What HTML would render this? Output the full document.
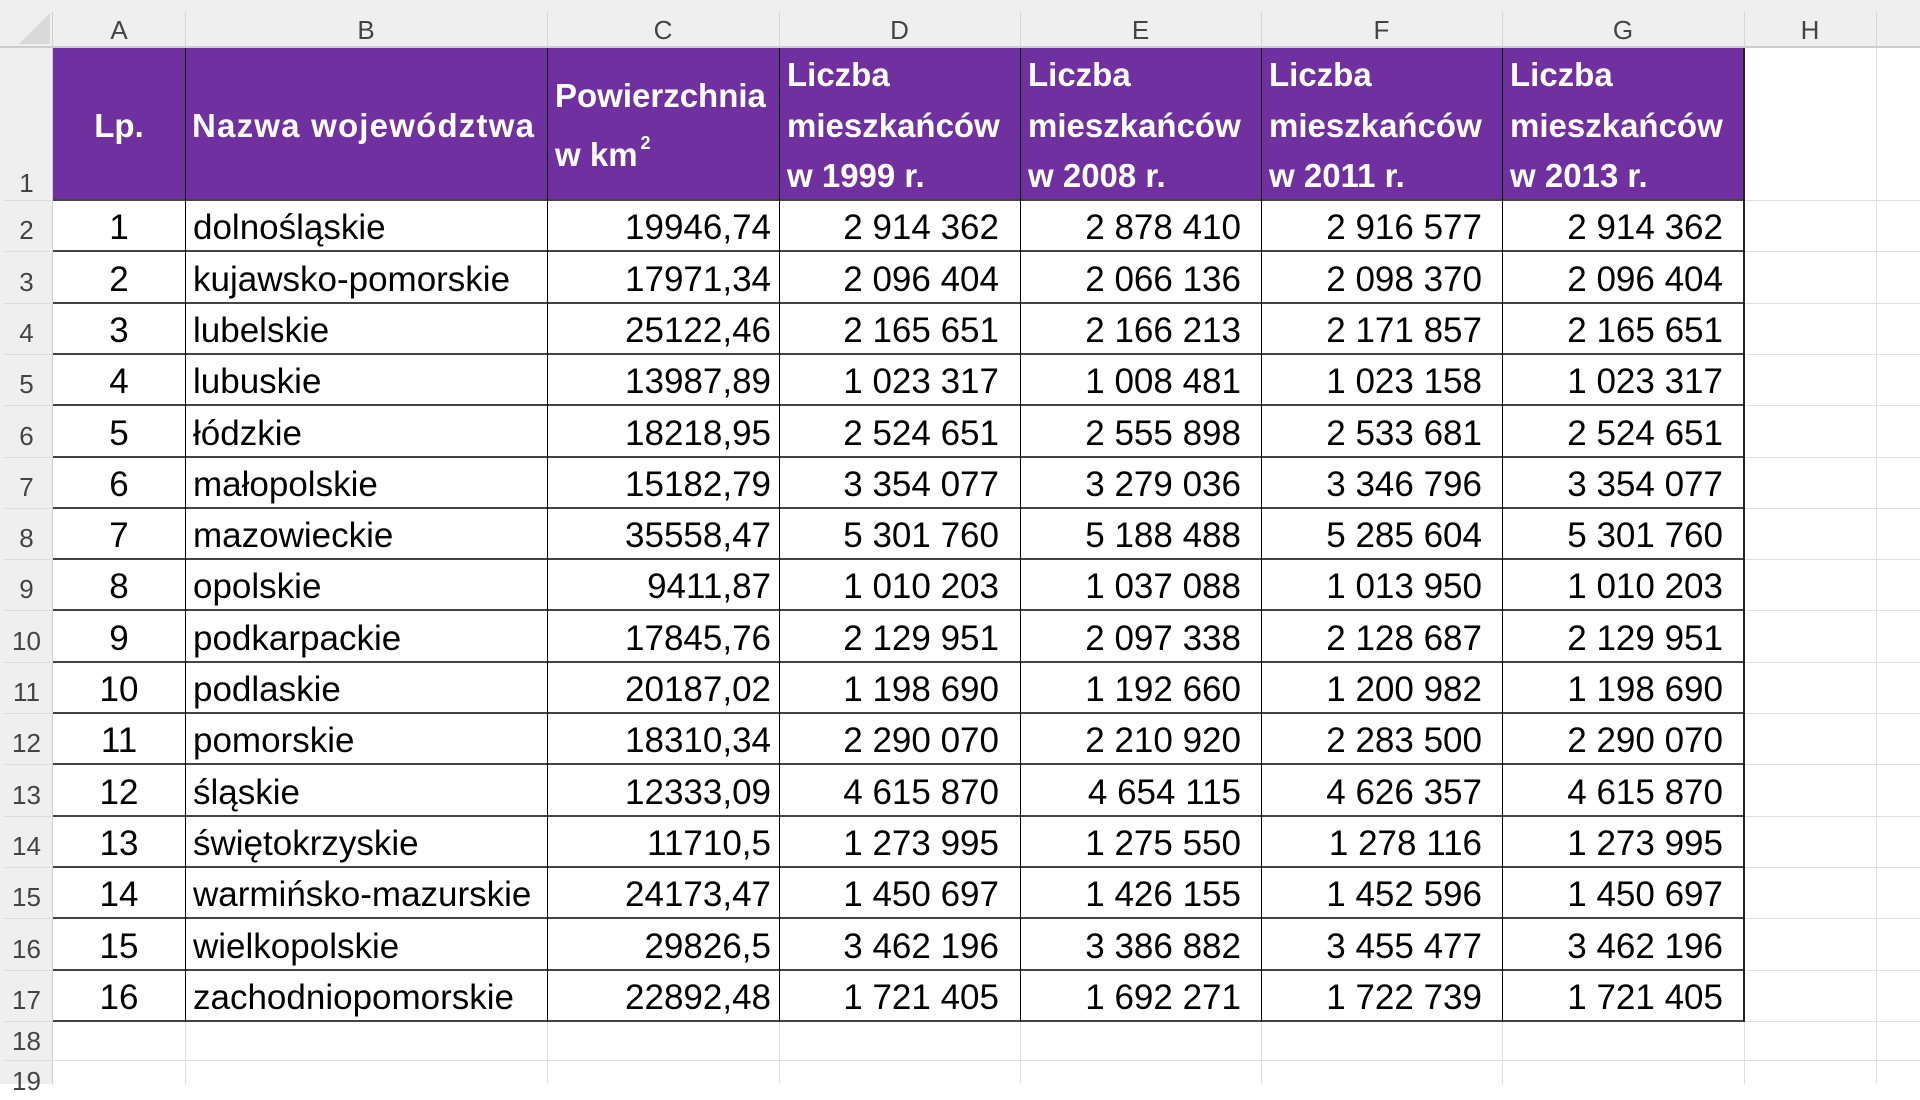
<!DOCTYPE html>
<html>
<head>
<meta charset="utf-8">
<style>
html,body{margin:0;padding:0}
body{width:1920px;height:1084px;overflow:hidden;background:#fff;font-family:"Liberation Sans",sans-serif;position:relative}
div{box-sizing:border-box}
.abs{position:absolute}
.row{position:absolute;left:0;width:1920px}
.t{position:absolute;bottom:3.5px;line-height:40px;font-size:35px;white-space:pre;color:#000}
.n{position:absolute;left:0;width:53px;bottom:6px;line-height:30px;font-size:26px;text-align:center;color:#444}
.a{left:53px;width:132px;text-align:center}
.b{left:193px}
.c{left:547px;width:224px;text-align:right}
.d{left:779px;width:220px;text-align:right}
.e{left:1020px;width:221px;text-align:right}
.f{left:1261px;width:221px;text-align:right}
.g{left:1502px;width:221px;text-align:right}
.hl{position:absolute;left:53px;width:1691px;height:2px;background:#444}
.vl{position:absolute;top:48px;height:974px;width:1px;background:#000}
.gh{position:absolute;height:1px;background:#e0e0e0}
.gv{position:absolute;width:1px;background:#e0e0e0}
.rs{position:absolute;left:4px;width:49px;height:1px;background:#dcdcdc}
.cs{position:absolute;top:12px;height:34px;width:1px;background:#d6d6d6}
.cl{position:absolute;top:14.5px;line-height:30px;font-size:26px;color:#444;text-align:center}
.ht{position:absolute;color:#fff;font-weight:bold;font-size:33px;line-height:50.5px;white-space:nowrap}
</style>
</head>
<body>
<div class="abs" style="left:0;top:0;width:1920px;height:46px;background:#efefef"></div>
<div class="abs" style="left:0;top:46px;width:1920px;height:2px;background:#cdcdcd"></div>
<div class="abs" style="left:0;top:48px;width:52px;height:1036px;background:#efefef"></div>
<div class="abs" style="left:52px;top:12px;width:1px;height:1072px;background:#d0d0d0"></div>
<svg class="abs" style="left:0;top:0" width="53" height="48"><polygon points="50,13 50,44 19,44" fill="#d9d9d9"/></svg>

<div class="cs" style="left:185px"></div>
<div class="cs" style="left:547px"></div>
<div class="cs" style="left:779px"></div>
<div class="cs" style="left:1020px"></div>
<div class="cs" style="left:1261px"></div>
<div class="cs" style="left:1502px"></div>
<div class="cs" style="left:1744px"></div>
<div class="cs" style="left:1876px"></div>

<div class="cl" style="left:53px;width:132px">A</div>
<div class="cl" style="left:185px;width:362px">B</div>
<div class="cl" style="left:547px;width:232px">C</div>
<div class="cl" style="left:779px;width:241px">D</div>
<div class="cl" style="left:1020px;width:241px">E</div>
<div class="cl" style="left:1261px;width:241px">F</div>
<div class="cl" style="left:1502px;width:242px">G</div>
<div class="cl" style="left:1744px;width:132px">H</div>

<div class="rs" style="top:200px"></div>
<div class="rs" style="top:251px"></div>
<div class="rs" style="top:303px"></div>
<div class="rs" style="top:354px"></div>
<div class="rs" style="top:405px"></div>
<div class="rs" style="top:457px"></div>
<div class="rs" style="top:508px"></div>
<div class="rs" style="top:559px"></div>
<div class="rs" style="top:610px"></div>
<div class="rs" style="top:662px"></div>
<div class="rs" style="top:713px"></div>
<div class="rs" style="top:764px"></div>
<div class="rs" style="top:816px"></div>
<div class="rs" style="top:867px"></div>
<div class="rs" style="top:918px"></div>
<div class="rs" style="top:970px"></div>
<div class="rs" style="top:1021px"></div>
<div class="rs" style="top:1060px"></div>

<div class="gv" style="left:1876px;top:48px;height:1036px"></div>
<div class="gh" style="left:1744px;width:176px;top:200px"></div>
<div class="gh" style="left:1744px;width:176px;top:251px"></div>
<div class="gh" style="left:1744px;width:176px;top:303px"></div>
<div class="gh" style="left:1744px;width:176px;top:354px"></div>
<div class="gh" style="left:1744px;width:176px;top:405px"></div>
<div class="gh" style="left:1744px;width:176px;top:457px"></div>
<div class="gh" style="left:1744px;width:176px;top:508px"></div>
<div class="gh" style="left:1744px;width:176px;top:559px"></div>
<div class="gh" style="left:1744px;width:176px;top:610px"></div>
<div class="gh" style="left:1744px;width:176px;top:662px"></div>
<div class="gh" style="left:1744px;width:176px;top:713px"></div>
<div class="gh" style="left:1744px;width:176px;top:764px"></div>
<div class="gh" style="left:1744px;width:176px;top:816px"></div>
<div class="gh" style="left:1744px;width:176px;top:867px"></div>
<div class="gh" style="left:1744px;width:176px;top:918px"></div>
<div class="gh" style="left:1744px;width:176px;top:970px"></div>
<div class="gh" style="left:1744px;width:176px;top:1021px"></div>
<div class="gh" style="left:53px;width:1867px;top:1060px"></div>
<div class="gv" style="left:185px;top:1021px;height:63px"></div>
<div class="gv" style="left:547px;top:1021px;height:63px"></div>
<div class="gv" style="left:779px;top:1021px;height:63px"></div>
<div class="gv" style="left:1020px;top:1021px;height:63px"></div>
<div class="gv" style="left:1261px;top:1021px;height:63px"></div>
<div class="gv" style="left:1502px;top:1021px;height:63px"></div>
<div class="gv" style="left:1744px;top:1021px;height:63px"></div>

<div class="abs" style="left:53px;top:48px;width:1691px;height:152px;background:#7030a0"></div>

<div class="hl" style="top:199px"></div>
<div class="hl" style="top:250px"></div>
<div class="hl" style="top:302px"></div>
<div class="hl" style="top:353px"></div>
<div class="hl" style="top:404px"></div>
<div class="hl" style="top:456px"></div>
<div class="hl" style="top:507px"></div>
<div class="hl" style="top:558px"></div>
<div class="hl" style="top:609px"></div>
<div class="hl" style="top:661px"></div>
<div class="hl" style="top:712px"></div>
<div class="hl" style="top:763px"></div>
<div class="hl" style="top:815px"></div>
<div class="hl" style="top:866px"></div>
<div class="hl" style="top:917px"></div>
<div class="hl" style="top:969px"></div>
<div class="hl" style="top:1020px"></div>
<div class="vl" style="left:185px"></div>
<div class="vl" style="left:547px"></div>
<div class="vl" style="left:779px"></div>
<div class="vl" style="left:1020px"></div>
<div class="vl" style="left:1261px"></div>
<div class="vl" style="left:1502px"></div>
<div class="vl" style="left:1743px;width:2px;background:#222"></div>

<div class="ht" style="left:53px;width:132px;text-align:center;top:101.3px">Lp.</div>
<div class="ht" style="left:192px;top:101.3px;letter-spacing:1.2px">Nazwa województwa</div>
<div class="ht" style="left:555px;top:71.3px">Powierzchnia</div>
<div class="ht" style="left:555px;top:130.3px">w km<span style="font-size:18px;position:relative;top:-17px;margin-left:3px">2</span></div>
<div class="ht" style="left:787px;top:50.3px">Liczba<br>mieszkańców<br>w 1999 r.</div>
<div class="ht" style="left:1028px;top:50.3px">Liczba<br>mieszkańców<br>w 2008 r.</div>
<div class="ht" style="left:1269px;top:50.3px">Liczba<br>mieszkańców<br>w 2011 r.</div>
<div class="ht" style="left:1510px;top:50.3px">Liczba<br>mieszkańców<br>w 2013 r.</div>

<div class="row" style="top:48px;height:152px"><div class="n" style="bottom:2px">1</div></div>

<div class="row" style="top:200px;height:51px"><div class="n">2</div><div class="t a">1</div><div class="t b">dolnośląskie</div><div class="t c">19946,74</div><div class="t d">2 914 362</div><div class="t e">2 878 410</div><div class="t f">2 916 577</div><div class="t g">2 914 362</div></div>
<div class="row" style="top:251px;height:52px"><div class="n">3</div><div class="t a">2</div><div class="t b">kujawsko-pomorskie</div><div class="t c">17971,34</div><div class="t d">2 096 404</div><div class="t e">2 066 136</div><div class="t f">2 098 370</div><div class="t g">2 096 404</div></div>
<div class="row" style="top:303px;height:51px"><div class="n">4</div><div class="t a">3</div><div class="t b">lubelskie</div><div class="t c">25122,46</div><div class="t d">2 165 651</div><div class="t e">2 166 213</div><div class="t f">2 171 857</div><div class="t g">2 165 651</div></div>
<div class="row" style="top:354px;height:51px"><div class="n">5</div><div class="t a">4</div><div class="t b">lubuskie</div><div class="t c">13987,89</div><div class="t d">1 023 317</div><div class="t e">1 008 481</div><div class="t f">1 023 158</div><div class="t g">1 023 317</div></div>
<div class="row" style="top:405px;height:52px"><div class="n">6</div><div class="t a">5</div><div class="t b">łódzkie</div><div class="t c">18218,95</div><div class="t d">2 524 651</div><div class="t e">2 555 898</div><div class="t f">2 533 681</div><div class="t g">2 524 651</div></div>
<div class="row" style="top:457px;height:51px"><div class="n">7</div><div class="t a">6</div><div class="t b">małopolskie</div><div class="t c">15182,79</div><div class="t d">3 354 077</div><div class="t e">3 279 036</div><div class="t f">3 346 796</div><div class="t g">3 354 077</div></div>
<div class="row" style="top:508px;height:51px"><div class="n">8</div><div class="t a">7</div><div class="t b">mazowieckie</div><div class="t c">35558,47</div><div class="t d">5 301 760</div><div class="t e">5 188 488</div><div class="t f">5 285 604</div><div class="t g">5 301 760</div></div>
<div class="row" style="top:559px;height:51px"><div class="n">9</div><div class="t a">8</div><div class="t b">opolskie</div><div class="t c">9411,87</div><div class="t d">1 010 203</div><div class="t e">1 037 088</div><div class="t f">1 013 950</div><div class="t g">1 010 203</div></div>
<div class="row" style="top:610px;height:52px"><div class="n">10</div><div class="t a">9</div><div class="t b">podkarpackie</div><div class="t c">17845,76</div><div class="t d">2 129 951</div><div class="t e">2 097 338</div><div class="t f">2 128 687</div><div class="t g">2 129 951</div></div>
<div class="row" style="top:662px;height:51px"><div class="n">11</div><div class="t a">10</div><div class="t b">podlaskie</div><div class="t c">20187,02</div><div class="t d">1 198 690</div><div class="t e">1 192 660</div><div class="t f">1 200 982</div><div class="t g">1 198 690</div></div>
<div class="row" style="top:713px;height:51px"><div class="n">12</div><div class="t a">11</div><div class="t b">pomorskie</div><div class="t c">18310,34</div><div class="t d">2 290 070</div><div class="t e">2 210 920</div><div class="t f">2 283 500</div><div class="t g">2 290 070</div></div>
<div class="row" style="top:764px;height:52px"><div class="n">13</div><div class="t a">12</div><div class="t b">śląskie</div><div class="t c">12333,09</div><div class="t d">4 615 870</div><div class="t e">4 654 115</div><div class="t f">4 626 357</div><div class="t g">4 615 870</div></div>
<div class="row" style="top:816px;height:51px"><div class="n">14</div><div class="t a">13</div><div class="t b">świętokrzyskie</div><div class="t c">11710,5</div><div class="t d">1 273 995</div><div class="t e">1 275 550</div><div class="t f">1 278 116</div><div class="t g">1 273 995</div></div>
<div class="row" style="top:867px;height:51px"><div class="n">15</div><div class="t a">14</div><div class="t b">warmińsko-mazurskie</div><div class="t c">24173,47</div><div class="t d">1 450 697</div><div class="t e">1 426 155</div><div class="t f">1 452 596</div><div class="t g">1 450 697</div></div>
<div class="row" style="top:918px;height:52px"><div class="n">16</div><div class="t a">15</div><div class="t b">wielkopolskie</div><div class="t c">29826,5</div><div class="t d">3 462 196</div><div class="t e">3 386 882</div><div class="t f">3 455 477</div><div class="t g">3 462 196</div></div>
<div class="row" style="top:970px;height:51px"><div class="n">17</div><div class="t a">16</div><div class="t b">zachodniopomorskie</div><div class="t c">22892,48</div><div class="t d">1 721 405</div><div class="t e">1 692 271</div><div class="t f">1 722 739</div><div class="t g">1 721 405</div></div>
<div class="row" style="top:1021px;height:39px"><div class="n" style="bottom:4px">18</div></div>
<div class="row" style="top:1060px;height:40px"><div class="n" style="bottom:4px">19</div></div>
</body>
</html>
